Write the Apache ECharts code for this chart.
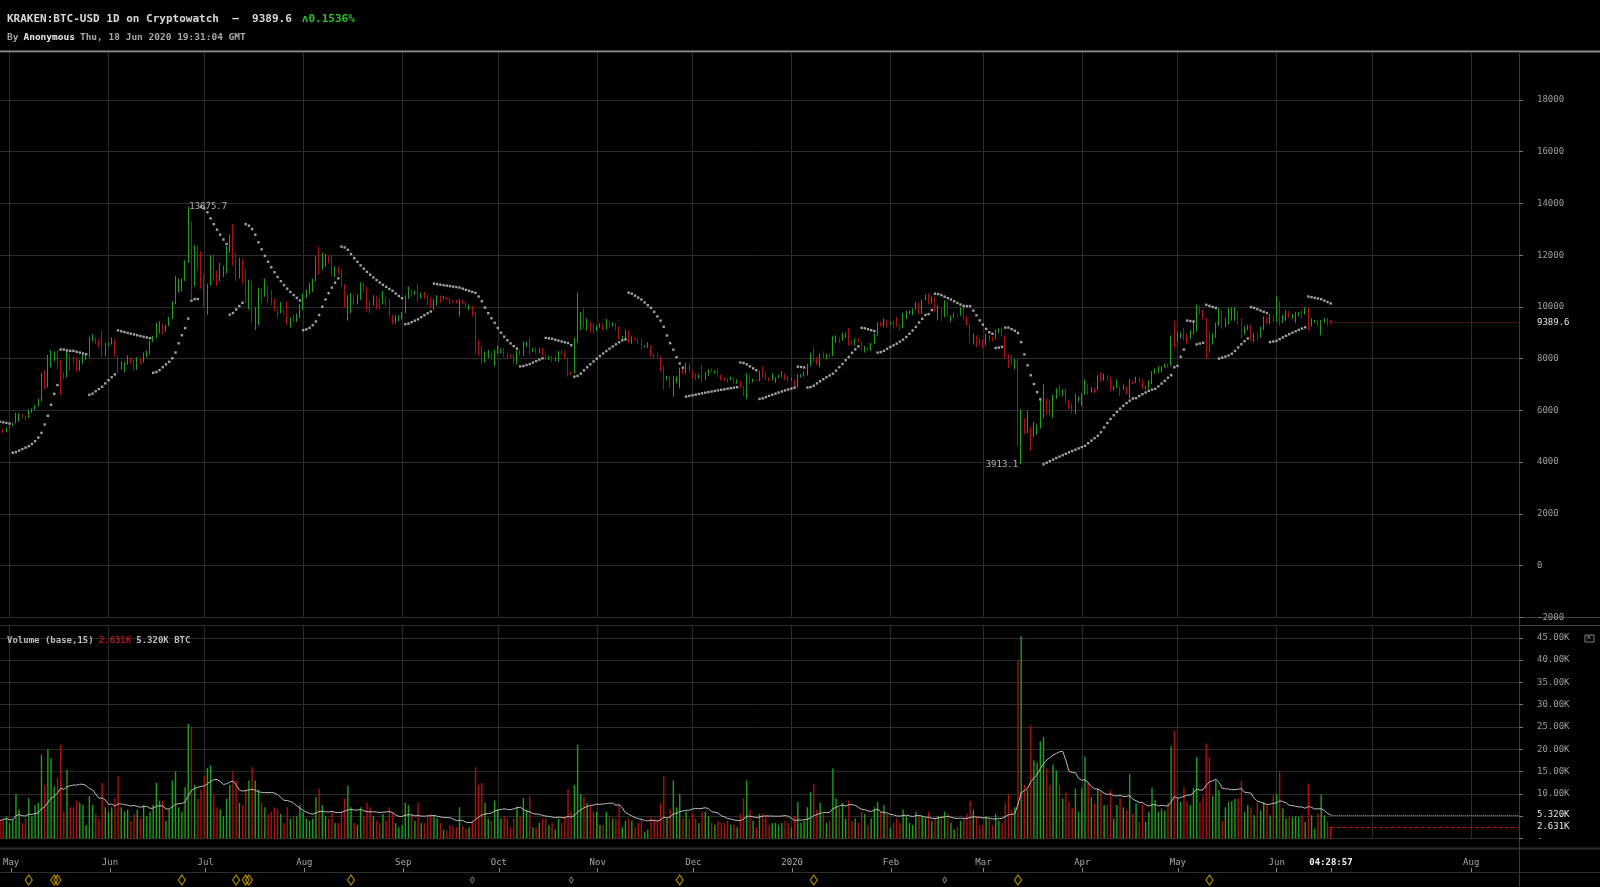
<!DOCTYPE html>
<html>
<head>
<meta charset="utf-8">
<script src="https://cdn.jsdelivr.net/npm/echarts@6/dist/echarts.min.js"></script>
<style>
html,body{margin:0;padding:0;background:#000;}
#chart{width:1600px;height:887px;}
</style>
</head>
<body>
<div id="chart"></div>
<script>
// ---------------- DATA ----------------
const startDate = [2019, 3, 28];          // first candle: 2019-04-28
const axisDays = 477;                      // x axis runs to 2020-08-16
const firstOpen = 5290;
const headerChange = '0.1536%';
const countdownLabel = '04:28:57';
const monthNames = ['Jan','Feb','Mar','Apr','May','Jun','Jul','Aug','Sep','Oct','Nov','Dec'];
const hiddenMonthLabel = '2020-07-01';
const hiddenVolumeTick = 5;                // replaced by the 5.320K marker label

const closePrices = [
// 2019 Apr 28-30
5270,5160,5320,
// May
5390,5500,5760,5830,5750,5700,5940,6020,6180,6370,7300,6960,7820,8000,8200,7880,7350,7260,8190,7990,7950,7660,7880,7990,8050,8740,8780,8720,8660,8270,8550,
// Jun
8560,8740,8110,7680,7790,7800,8000,7920,7640,8010,7920,8170,8240,8690,8840,8980,9320,9080,9270,9530,10170,10700,10860,11020,11750,12930,11150,12370,11890,10830,
// Jul
10590,10840,11980,11150,10980,11250,11480,12300,12570,12100,11340,11800,11360,10200,10850,9430,9690,10640,10530,10760,10590,10320,9860,9770,9880,9850,9480,9530,9510,9590,10080,
// Aug
10400,10530,10820,10980,11800,11470,11950,11960,11850,11280,11530,11380,10880,10050,10300,10360,10220,10320,10920,10760,10140,10130,10400,10150,10140,10370,10190,9700,9490,9590,9600,
// Sep
9760,10380,10620,10580,10580,10320,10490,10400,10310,10100,10160,10420,10360,10360,10310,10260,10190,10160,10270,10180,9980,10030,9690,8530,8430,8060,8190,8210,8040,8300,
// Oct
8330,8390,8230,8150,8140,7860,8210,8190,8590,8590,8270,8340,8290,8370,8160,8000,8080,7960,7960,8230,8220,8030,7470,7430,8660,9260,9550,9220,9430,9180,9150,
// Nov
9250,9310,9200,9400,9310,9340,9210,8770,8810,9030,8720,8800,8760,8630,8460,8480,8500,8170,8120,8080,7620,7280,7320,6900,7120,7160,7520,7440,7760,7560,
// Dec
7410,7300,7300,7200,7390,7540,7510,7520,7340,7220,7200,7190,7250,7070,7110,6880,6620,7280,7150,7190,7140,7520,7320,7250,7200,7200,7250,7310,7390,7220,7170,
// 2020 Jan
7180,6950,7340,7350,7350,7760,8160,8040,7820,8190,8020,8180,8110,8810,8820,8720,8900,8910,8700,8630,8730,8660,8390,8430,8330,8600,8900,9380,9300,9500,9340,
// Feb
9380,9330,9290,9180,9610,9760,9800,9900,10160,9850,10270,10350,10230,10360,9900,9920,9700,10170,9600,9600,9690,9660,9960,9650,9300,8780,8810,8700,8540,
// Mar
8530,8910,8760,8750,9070,9150,8890,8030,7930,7900,7940,4850,5600,5170,5370,5010,5330,5410,6180,6210,6190,5820,6480,6770,6700,6760,6380,6250,5880,6400,6420,
// Apr
6640,6810,6740,6870,6780,7340,7200,7370,7300,6870,6890,6910,6860,6860,6630,7120,7100,7260,7130,6860,6860,7130,7490,7510,7550,7690,7780,7760,8780,8620,
// May
8830,8970,8900,8880,9030,9160,9990,9810,9530,8730,8570,8820,9310,9790,9320,9380,9670,9730,9780,9510,9060,9170,9180,8720,8900,8840,9200,9580,9420,9700,9450,
// Jun 1-18
10200,9520,9660,9800,9630,9670,9750,9780,9770,9870,9280,9460,9480,9340,9440,9520,9460,9389.6
];

const highPrices = [
5330,5290,5340,
5410,5530,5900,5890,5840,5790,6030,6070,6200,6450,7450,7550,8150,8330,8280,8350,7950,7480,8300,8200,8090,8050,7950,8150,8150,8850,8950,8820,8770,9090,8600,
8630,8820,8760,8110,7900,7870,8120,8050,7960,8060,8020,8240,8320,8690,8880,9380,9450,9340,9300,9600,10230,11200,11100,11100,11800,13875.7,13300,12400,12390,12150,
11250,10900,11990,12050,11400,11700,11580,12350,12800,13200,12100,11900,11850,11450,11050,11000,9990,10750,10700,11100,10800,10650,10330,9900,10180,9880,10200,9580,9720,9750,10110,
10520,10670,10920,11080,11950,12330,12100,12050,12000,11950,11560,11550,11450,10880,10450,10530,10450,10480,10950,10950,10770,10220,10450,10420,10350,10630,10390,10300,9700,9680,9680,
9800,10450,10790,10650,10620,10900,10550,10580,10480,10400,10300,10450,10440,10420,10380,10370,10270,10270,10300,10280,10190,10090,10050,9790,8720,8500,8270,8330,8230,8340,
8490,8400,8410,8230,8180,8160,8310,8330,8670,8650,8800,8420,8440,8400,8400,8170,8110,8120,8080,8290,8340,8310,8040,7500,8800,10550,9800,9950,9550,9430,9380,
9280,9370,9350,9530,9460,9400,9370,9240,8880,9120,9080,8860,8800,8780,8770,8510,8640,8510,8180,8210,8100,7720,7340,7340,7340,7320,7650,7640,7850,7820,
7560,7420,7400,7750,7480,7590,7620,7560,7630,7390,7270,7240,7300,7290,7200,7150,6940,7430,7360,7220,7190,7530,7690,7440,7280,7440,7280,7370,7520,7430,7310,
7260,7210,7410,7400,7500,7790,8210,8450,8050,8200,8280,8190,8200,8880,8900,8830,9000,9000,9190,8730,8770,8780,8670,8490,8430,8610,8970,9400,9430,9560,9510,
9430,9460,9600,9320,9760,9860,9870,9940,10180,10180,10300,10480,10510,10400,10380,10060,9950,10250,10200,9670,9770,9700,9990,10030,9660,9350,8970,8900,8800,
8760,8960,8920,8850,9140,9170,9200,8890,8180,8150,7980,7970,6010,5690,5970,5370,5550,5450,6420,7000,6440,6420,6600,6850,6980,6800,6860,6400,6260,6620,6540,
6680,7200,7000,6900,6880,7360,7460,7420,7370,7300,6950,7200,6920,6990,6930,7200,7150,7300,7260,7200,6950,7160,7520,7620,7700,7710,7800,7790,8900,9470,
9050,9020,9200,8960,9100,9400,10080,10040,9900,9570,9050,8980,9400,9950,9840,9580,9960,9980,9990,9840,9570,9270,9310,9300,8980,9010,9220,9630,9600,9740,9700,
10400,10230,9690,9880,9850,9730,9800,9800,9880,9990,9960,9560,9500,9490,9500,9580,9560,9490
];

const lowPrices = [
5230,5120,5150,
5310,5380,5490,5560,5710,5620,5700,5900,6000,6140,6350,6800,6880,7650,7900,7600,6600,7200,7260,7530,7800,7500,7520,7800,7950,8040,8660,8560,8430,8050,8100,
8480,8540,8070,7450,7580,7470,7760,7800,7550,7560,7760,7850,8040,8150,8630,8800,8980,8930,9040,9250,9530,10100,10550,10600,11000,11700,10300,10800,11400,10700,
9950,9700,10830,11050,10800,10980,11150,11300,12100,11600,11000,11100,10900,10150,9900,9380,9100,9300,10150,10390,10150,10070,9830,9550,9750,9680,9300,9200,9400,9420,9570,
9880,10340,10500,10580,10980,11250,11430,11550,11700,11200,11150,11250,10780,9950,9470,9750,10070,10100,10270,10600,9850,9750,10050,9900,9900,10100,10050,9600,9330,9360,9450,
9520,9750,10300,10400,10460,10180,10320,10310,10080,9950,9880,10050,10150,10280,10270,10100,10150,10130,9630,10080,9970,9870,9630,8200,8100,7790,7850,8020,7950,7700,
8190,8190,8060,8000,8030,7780,7770,8120,8110,8450,8150,8260,8200,8220,8100,7950,7950,7860,7900,7870,8160,7990,7300,7370,7420,8600,9100,9150,9080,9020,8980,
9050,9200,9100,9120,9200,9240,9080,8740,8770,8760,8600,8560,8700,8570,8380,8430,8410,8060,8000,8030,7500,6800,7160,6880,6530,7050,6850,7400,7420,7470,
7230,7160,7230,7080,7160,7330,7490,7420,7290,7160,7130,7060,7170,7020,7030,6860,6550,6440,7050,7080,7120,7120,7270,7180,7120,7160,7060,7240,7280,7170,7130,
7150,6900,6880,7260,7310,7340,7720,7880,7760,7670,8000,7970,8060,8100,8600,8600,8680,8810,8500,8520,8500,8620,8300,8230,8290,8300,8580,8880,9230,9220,9200,
9300,9160,9230,9100,9170,9530,9710,9680,9890,9730,9720,10250,10090,10130,9820,9480,9450,9600,9600,9410,9580,9590,9660,9520,9270,8600,8540,8450,8520,
8410,8500,8650,8670,8750,8990,8860,8000,7630,7750,7590,4600,3913.1,5080,5110,4440,4960,5060,5290,5700,5850,5770,5700,6440,6550,6550,6260,6040,5870,5850,6330,
6160,6600,6600,6680,6660,6780,7100,7150,7120,6750,6780,6860,6540,6800,6620,6470,7010,7050,7070,6820,6800,6830,7010,7400,7450,7480,7650,7670,7720,8400,
8620,8770,8720,8550,8770,8940,9040,9700,9500,8000,8200,8540,8800,9260,9150,9220,9330,9470,9460,9300,8800,8940,9100,8700,8640,8700,8810,9110,9330,9340,9400,
9420,9280,9380,9450,9580,9530,9380,9640,9570,9700,9080,9240,9380,9250,8900,9380,9240,9330
];

// daily volume, thousands of BTC
const volumeK = [
4.0,4.5,4.9,
3.4,4.1,10.0,6.5,3.5,4.5,9.0,5.0,7.5,8.0,18.8,12.0,20.0,18.0,11.7,13.6,21.0,6.0,15.4,7.0,7.0,8.5,8.0,7.5,3.0,9.5,7.5,5.5,4.3,12.5,7.0,
6.0,7.0,9.0,14.0,7.0,6.0,6.5,4.0,5.5,6.5,4.5,7.5,5.0,6.0,7.5,12.5,8.5,8.5,4.0,6.5,13.0,15.0,7.0,6.0,11.5,25.7,25.0,12.0,9.0,11.0,
14.0,15.8,16.4,10.0,7.0,6.5,5.0,9.0,12.0,15.0,13.0,8.0,7.5,11.0,13.0,16.0,13.0,11.0,8.0,7.0,5.5,6.0,7.0,6.5,5.5,3.5,7.0,4.5,5.0,5.0,7.5,
6.0,4.5,4.0,4.5,9.3,11.2,7.5,5.0,4.5,6.0,3.5,3.5,6.0,9.0,11.8,7.0,3.5,3.0,7.0,5.0,8.0,7.0,5.0,4.0,3.5,5.5,4.0,7.0,6.0,3.5,2.5,
3.0,8.0,7.5,5.5,4.0,8.0,3.5,3.5,5.0,5.5,5.0,4.5,3.5,2.0,1.8,3.0,2.8,2.5,7.0,2.8,2.2,2.5,4.0,16.0,12.0,12.5,8.0,4.5,4.0,8.5,
6.5,4.5,5.0,4.5,2.5,4.5,7.0,5.0,9.0,6.5,9.5,2.5,2.5,3.5,4.5,4.5,3.0,3.5,2.0,4.5,3.5,5.0,11.0,6.0,12.0,21.0,10.0,9.5,8.0,7.5,6.0,
6.0,3.0,3.0,6.0,5.0,4.5,4.5,7.5,2.5,4.0,4.5,4.0,2.5,3.5,4.5,1.5,2.0,5.0,4.5,4.0,8.0,14.0,4.5,6.5,13.0,7.0,10.0,4.5,6.0,4.5,
5.5,4.5,3.5,6.0,6.0,5.0,3.5,3.0,4.0,3.5,3.5,4.0,3.0,3.0,2.5,5.5,9.0,13.0,6.5,4.0,2.5,5.5,5.5,5.0,3.0,3.5,3.5,3.0,3.5,4.0,3.5,
2.5,5.0,8.2,3.5,4.0,7.0,10.4,12.3,6.5,8.0,5.5,3.5,4.0,15.7,9.0,7.0,8.0,4.5,8.5,4.0,4.5,3.5,6.0,5.5,3.0,4.5,7.0,8.2,6.0,7.5,5.5,
2.5,3.5,4.5,3.5,6.5,5.0,3.5,3.0,6.0,5.0,5.0,4.5,6.0,4.0,4.5,5.0,5.0,6.0,5.5,3.5,2.0,2.5,4.0,4.5,5.5,8.4,6.5,5.0,3.0,
3.0,5.0,4.5,3.0,5.5,4.0,3.5,8.0,10.0,6.5,7.0,40.0,45.4,12.0,11.0,25.4,17.5,17.0,21.8,22.8,15.7,12.0,16.6,15.3,12.0,9.0,10.3,8.2,6.9,11.2,6.0,
11.2,18.4,12.7,9.3,8.0,11.2,10.4,7.5,7.6,10.8,4.5,7.5,9.0,7.0,6.4,14.5,5.6,7.8,3.7,7.6,3.7,6.0,11.4,8.6,6.0,6.7,6.3,8.0,20.7,24.2,
9.0,8.2,11.5,8.2,7.5,11.4,18.3,8.2,9.7,21.3,18.3,9.5,13.0,10.8,4.0,7.0,8.2,8.4,8.9,9.0,13.0,6.0,7.5,7.0,5.2,8.2,6.3,8.2,7.5,5.2,9.7,
10.0,15.0,6.7,4.5,4.9,4.8,5.0,4.9,5.2,3.7,12.3,5.2,2.2,5.6,9.9,5.2,3.77,2.631
];

// parabolic SAR state before the first candle
const sarStart = { trend: -1, sar: 5560, ep: 4360 };
const sarStep = 0.02, sarMax = 0.2;
const volumeMaPeriod = 15;

// event markers under the time axis
const eventDatesMajor = ['2019-05-07','2019-05-15','2019-05-16','2019-06-24','2019-07-11','2019-07-14','2019-07-15','2019-08-16','2019-11-27','2020-01-08','2020-03-12','2020-05-11'];
const eventDatesMinor = ['2019-09-23','2019-10-24','2020-02-18'];

// ---------------- BUILD ----------------
const UP = '#1f9f1f', DOWN = '#ad1010';
const FONT = '"DejaVu Sans Mono", monospace';
const GRIDLINE = '#2c2c2c';

const dates = [];
for (let k = 0; k < axisDays; k++) {
  const d = new Date(Date.UTC(startDate[0], startDate[1], startDate[2] + k));
  dates.push(d.toISOString().slice(0, 10));
}
const n = closePrices.length;
const opens = closePrices.map((c, i) => i === 0 ? firstOpen : closePrices[i - 1]);
const candles = closePrices.map((c, i) => [opens[i], c,
  Math.min(lowPrices[i], opens[i], c), Math.max(highPrices[i], opens[i], c)]);
const lastClose = closePrices[n - 1];
const lastDate = dates[n - 1];

function psar(h, l) {
  let trend = sarStart.trend, sar = sarStart.sar, ep = sarStart.ep, af = sarStep;
  const out = [];
  for (let i = 0; i < h.length; i++) {
    if (i > 0) {
      let next = sar + af * (ep - sar);
      const p2 = i > 1 ? i - 2 : i - 1;
      if (trend > 0) {
        next = Math.min(next, l[i - 1], l[p2]);
        if (l[i] < next) { trend = -1; next = ep; ep = l[i]; af = sarStep; }
        else if (h[i] > ep) { ep = h[i]; af = Math.min(af + sarStep, sarMax); }
      } else {
        next = Math.max(next, h[i - 1], h[p2]);
        if (h[i] > next) { trend = 1; next = ep; ep = h[i]; af = sarStep; }
        else if (l[i] < ep) { ep = l[i]; af = Math.min(af + sarStep, sarMax); }
      }
      sar = next;
    }
    out.push(sar);
  }
  return out;
}
const hi = candles.map(c => c[3]), lo = candles.map(c => c[2]);
const sarValues = psar(hi, lo);
const sarData = sarValues.map((v, i) => [dates[i], +v.toFixed(1)]);

const volMA = volumeK.map((v, i) => {
  const s = Math.max(0, i - volumeMaPeriod + 1);
  let sum = 0; for (let k = s; k <= i; k++) sum += volumeK[k];
  return +(sum / (i - s + 1)).toFixed(4);
});
const lastVol = volumeK[n - 1], lastMA = volMA[n - 1];
const volBars = volumeK.map((v, i) => ({
  value: v, itemStyle: { color: candles[i][1] >= candles[i][0] ? UP : DOWN }
}));

let iMax = 0, iMin = 0;
for (let i = 0; i < n; i++) { if (hi[i] > hi[iMax]) iMax = i; if (lo[i] < lo[iMin]) iMin = i; }

const isMonthStart = (idx, v) => v.slice(8, 10) === '01';
const showTimeLabel = (idx, v) => v === lastDate || (isMonthStart(idx, v) && v !== hiddenMonthLabel);

const chart = echarts.init(document.getElementById('chart'), null, { renderer: 'canvas' });

const baseX = {
  type: 'category', data: dates, boundaryGap: false,
  axisLine: { show: false }, axisTick: { show: false }, axisLabel: { show: false },
  splitLine: { show: true, interval: isMonthStart, lineStyle: { color: GRIDLINE, width: 1 } }
};

const option = {
  backgroundColor: '#000',
  animation: false,
  title: [
    { left: 7, top: 10, padding: 0,
      text: '{t|KRAKEN:BTC-USD 1D on Cryptowatch  —  ' + lastClose.toFixed(1) + '}  {g|\u028C' + headerChange + '}',
      textStyle: { rich: {
        t: { color: '#d8d8d8', fontSize: 11, fontFamily: FONT, lineHeight: 13 },
        g: { color: '#2fbf2f', fontSize: 11, fontFamily: FONT, lineHeight: 13 } } } },
    { left: 7, top: 29, padding: 0,
      text: '{d|By} {b|Anonymous} {d|Thu, 18 Jun 2020 19:31:04 GMT}',
      textStyle: { rich: {
        d: { color: '#a8a8a8', fontSize: 9.5, fontFamily: FONT, lineHeight: 11 },
        b: { color: '#e8e8e8', fontSize: 9.5, fontFamily: FONT, fontWeight: 'bold', lineHeight: 11 } } } },
    { left: 7, top: 632, padding: 0,
      text: '{a|Volume (base,' + volumeMaPeriod + ')} {r|' + lastVol.toFixed(3) + 'K} {a|' + lastMA.toFixed(3) + 'K BTC}',
      textStyle: { rich: {
        a: { color: '#bdbdbd', fontSize: 9, fontFamily: FONT, lineHeight: 11 },
        r: { color: '#b01515', fontSize: 9, fontFamily: FONT, lineHeight: 11 } } } }
  ],
  grid: [
    { left: 0, right: 81, top: 52, height: 565.2 },
    { left: 0, right: 81, top: 625.5, height: 213 },
    { left: 0, right: 81, top: 849, height: 23 },
    { left: 0, right: 81, top: 874, height: 12 }
  ],
  xAxis: [
    Object.assign({ gridIndex: 0 }, baseX),
    Object.assign({ gridIndex: 1 }, baseX),
    { gridIndex: 2, type: 'category', data: dates, boundaryGap: false,
      axisLine: { show: false },
      axisTick: { show: true, inside: true, length: 4, interval: showTimeLabel, lineStyle: { color: '#8a8a8a' } },
      axisLabel: { show: true, inside: true, margin: 5, interval: showTimeLabel,
        color: '#a8a8a8', fontSize: 9, fontFamily: FONT,
        formatter: v => v === lastDate ? '{b|' + countdownLabel + '}' :
          (v.slice(5, 7) === '01' ? v.slice(0, 4) : monthNames[+v.slice(5, 7) - 1]),
        rich: { b: { color: '#f0f0f0', fontWeight: 'bold', fontSize: 9, fontFamily: FONT } } },
      splitLine: { show: false } },
    { gridIndex: 3, type: 'category', data: dates, boundaryGap: false, show: false }
  ],
  yAxis: [
    { gridIndex: 0, type: 'value', position: 'right', min: -2000, max: 19856, interval: 2000,
      axisLine: { show: false },
      axisTick: { show: true, length: 4, lineStyle: { color: '#777' } },
      axisLabel: { margin: 18, color: '#9e9e9e', fontSize: 9, fontFamily: FONT, showMaxLabel: false,
        formatter: v => String(v) },
      splitLine: { show: true, lineStyle: { color: GRIDLINE } } },
    { gridIndex: 1, type: 'value', position: 'right', min: 0, max: 47.76, interval: 5,
      axisLine: { show: false },
      axisTick: { show: true, length: 4, lineStyle: { color: '#777' } },
      axisLabel: { margin: 18, color: '#9e9e9e', fontSize: 9, fontFamily: FONT, showMaxLabel: false,
        formatter: v => v === 0 ? '-' : (v === hiddenVolumeTick ? '' : v.toFixed(2) + 'K') },
      splitLine: { show: true, lineStyle: { color: GRIDLINE } } },
    { gridIndex: 2, type: 'value', show: false, min: 0, max: 1 },
    { gridIndex: 3, type: 'value', show: false, min: -1, max: 1 }
  ],
  series: [
    { name: 'price', type: 'candlestick', xAxisIndex: 0, yAxisIndex: 0, data: candles,
      barWidth: 1.2,
      itemStyle: { color: UP, color0: DOWN, borderColor: UP, borderColor0: DOWN, borderWidth: 1 },
      markPoint: {
        symbol: 'circle', symbolSize: 0, silent: true,
        label: { show: true, color: '#b0b0b0', fontSize: 9, fontFamily: FONT },
        data: [
          { coord: [dates[iMax], hi[iMax]], value: hi[iMax],
            label: { position: 'right', distance: 1, formatter: String(hi[iMax]) } },
          { coord: [dates[iMin], lo[iMin]], value: lo[iMin],
            label: { position: 'left', distance: 3, formatter: String(lo[iMin]) } }
        ]
      },
      markLine: {
        silent: true, symbol: ['none', 'none'],
        lineStyle: { color: '#c01010', type: 'dotted', width: 1 },
        label: { show: true, position: 'end', distance: 18, color: '#e6e6e6', fontSize: 9, fontFamily: FONT,
          formatter: lastClose.toFixed(1) },
        data: [[{ coord: [lastDate, lastClose] }, { coord: [dates[axisDays - 1], lastClose] }]]
      } },
    { name: 'sar', type: 'scatter', xAxisIndex: 0, yAxisIndex: 0, data: sarData,
      symbol: 'rect', symbolSize: 2.4, itemStyle: { color: '#c9c9c9' }, silent: true },
    { name: 'volume', type: 'bar', xAxisIndex: 1, yAxisIndex: 1, data: volBars, barWidth: 1.4,
      markLine: {
        silent: true, symbol: ['none', 'none'],
        lineStyle: { color: '#c01010', type: 'dashed', width: 1 },
        label: { show: true, position: 'end', distance: 18, color: '#e6e6e6', fontSize: 9, fontFamily: FONT,
          formatter: lastVol.toFixed(3) + 'K' },
        data: [[{ coord: [lastDate, lastVol] }, { coord: [dates[axisDays - 1], lastVol] }]]
      } },
    { name: 'volMA', type: 'line', xAxisIndex: 1, yAxisIndex: 1, data: volMA, showSymbol: false,
      lineStyle: { color: '#bdbdbd', width: 1 }, silent: true,
      markLine: {
        silent: true, symbol: ['none', 'none'],
        lineStyle: { color: '#9a9a9a', type: 'dotted', width: 1 },
        label: { show: true, position: 'end', distance: 18, color: '#e6e6e6', fontSize: 9, fontFamily: FONT,
          formatter: lastMA.toFixed(3) + 'K' },
        data: [[{ coord: [lastDate, lastMA] }, { coord: [dates[axisDays - 1], lastMA] }]]
      } },
    { name: 'eventsMajor', type: 'scatter', xAxisIndex: 3, yAxisIndex: 3,
      data: eventDatesMajor.map(d => [d, 0]), symbol: 'diamond', symbolSize: [7, 10],
      itemStyle: { color: 'rgba(0,0,0,0)', borderColor: '#d9ac00', borderWidth: 1.2 }, silent: true },
    { name: 'eventsMinor', type: 'scatter', xAxisIndex: 3, yAxisIndex: 3,
      data: eventDatesMinor.map(d => [d, 0]), symbol: 'diamond', symbolSize: [4, 6],
      itemStyle: { color: 'rgba(0,0,0,0)', borderColor: '#9a9a9a', borderWidth: 1 }, silent: true }
  ],
  graphic: [
    { type: 'line', shape: { x1: 0, y1: 51.5, x2: 1600, y2: 51.5 }, style: { stroke: '#8c8c8c', lineWidth: 2 }, silent: true },
    { type: 'line', shape: { x1: 0, y1: 617.5, x2: 1600, y2: 617.5 }, style: { stroke: '#3c3c3c', lineWidth: 1 }, silent: true },
    { type: 'line', shape: { x1: 0, y1: 625.5, x2: 1600, y2: 625.5 }, style: { stroke: '#3c3c3c', lineWidth: 1 }, silent: true },
    { type: 'line', shape: { x1: 0, y1: 848.5, x2: 1600, y2: 848.5 }, style: { stroke: '#2e2e2e', lineWidth: 2 }, silent: true },
    { type: 'line', shape: { x1: 0, y1: 872.5, x2: 1600, y2: 872.5 }, style: { stroke: '#2e2e2e', lineWidth: 1 }, silent: true },
    { type: 'line', shape: { x1: 1519.5, y1: 52, x2: 1519.5, y2: 887 }, style: { stroke: '#3a3a3a', lineWidth: 1 }, silent: true },
    { type: 'rect', shape: { x: 1585, y: 635, width: 9, height: 7 }, style: { fill: 'none', stroke: '#808080', lineWidth: 1 }, silent: true },
    { type: 'text', x: 1586.5, y: 634, style: { text: '×', fill: '#9a9a9a', fontSize: 8, fontFamily: FONT }, silent: true }
  ]
};
chart.setOption(option);
</script>
</body>
</html>
